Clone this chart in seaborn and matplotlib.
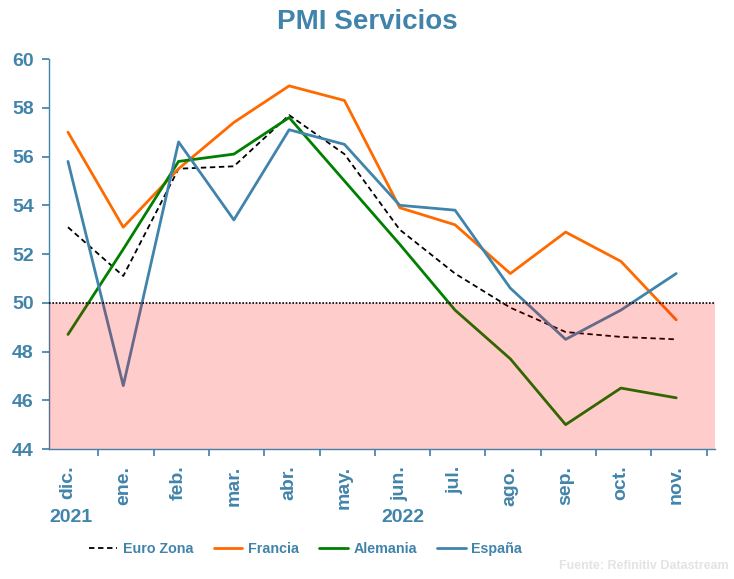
import matplotlib
matplotlib.use("Agg")
import matplotlib.pyplot as plt
import seaborn as sns
import pandas as pd

months = ["dic.", "ene.", "feb.", "mar.", "abr.", "may.", "jun.", "jul.", "ago.", "sep.", "oct.", "nov."]
euro_zona = [53.1, 51.1, 55.5, 55.6, 57.7, 56.1, 53.0, 51.2, 49.8, 48.8, 48.6, 48.5]
francia = [57.0, 53.1, 55.5, 57.4, 58.9, 58.3, 53.9, 53.2, 51.2, 52.9, 51.7, 49.3]
alemania = [48.7, 52.2, 55.8, 56.1, 57.6, 55.0, 52.4, 49.7, 47.7, 45.0, 46.5, 46.1]
espana = [55.8, 46.6, 56.6, 53.4, 57.1, 56.5, 54.0, 53.8, 50.6, 48.5, 49.7, 51.2]
years = {0: "2021", 6: "2022"}

blue = "#4184AB"
sns.set_theme(style="white")
plt.rcParams["font.family"] = ["Liberation Sans", "DejaVu Sans"]

df = pd.DataFrame({"x": range(len(months)), "Euro Zona": euro_zona, "Francia": francia,
                   "Alemania": alemania, "España": espana})

fig = plt.figure(figsize=(7.34, 5.79), dpi=100)
ax = fig.add_axes([0.067, 0.2245, 0.907, 0.6735])

sns.lineplot(data=df, x="x", y="Euro Zona", ax=ax, color="black", lw=1.3,
             linestyle=(0, (3, 2)), label="Euro Zona")
sns.lineplot(data=df, x="x", y="Francia", ax=ax, color="#FF6A00", lw=2, label="Francia")
sns.lineplot(data=df, x="x", y="Alemania", ax=ax, color="#008000", lw=2, label="Alemania")
sns.lineplot(data=df, x="x", y="España", ax=ax, color=blue, lw=2, label="España")

# shaded contraction zone on top of the lines
ax.axhspan(44, 50, color="red", alpha=0.2, lw=0, zorder=5)
ax.axhline(50, color="black", lw=1.2, ls=(0, (1, 1)), zorder=6)

ax.set_ylim(44, 60)
ax.set_xlim(-0.34, 11.7)
ax.set_yticks(range(44, 61, 2))
ax.set_xticks([i + 0.55 for i in range(12)])
ax.set_xticklabels([])
ax.set_xticks(range(12), minor=True)
ax.set_xticklabels(months, minor=True, rotation=90)
ax.tick_params(axis="x", which="major", length=5, color=blue, direction="out", bottom=True)
ax.tick_params(axis="x", which="minor", length=0, pad=12, labelsize=14, labelcolor=blue)
ax.tick_params(axis="y", length=5, color=blue, left=True, labelsize=14, labelcolor=blue, pad=6)
for lab in ax.get_xticklabels(minor=True) + ax.get_yticklabels():
    lab.set_fontweight("bold")
for i, yr in years.items():
    ax.text(i + 0.05, -0.155, yr, transform=ax.get_xaxis_transform(), ha="center", va="top",
            fontsize=14, fontweight="bold", color=blue)

ax.set_xlabel("")
ax.set_ylabel("")
sns.despine(ax=ax)
for s in ["left", "bottom"]:
    ax.spines[s].set_color(blue)
    ax.spines[s].set_linewidth(1)

fig.text(0.5, 0.962, "PMI Servicios", ha="center", va="center", fontsize=20,
         fontweight="bold", color=blue)

leg = ax.legend(loc="center", bbox_to_anchor=(0.385, -0.256), ncol=4, frameon=False,
                fontsize=10.3, handlelength=2.0, columnspacing=1.4, handletextpad=0.4)
for t in leg.get_texts():
    t.set_color(blue)
    t.set_fontweight("bold")

fig.text(0.993, 0.012, "Fuente: Refinitiv Datastream", ha="right", va="bottom",
         fontsize=9, fontweight="bold", color="#E3E3E3")

fig.savefig("out.png", dpi=100)
